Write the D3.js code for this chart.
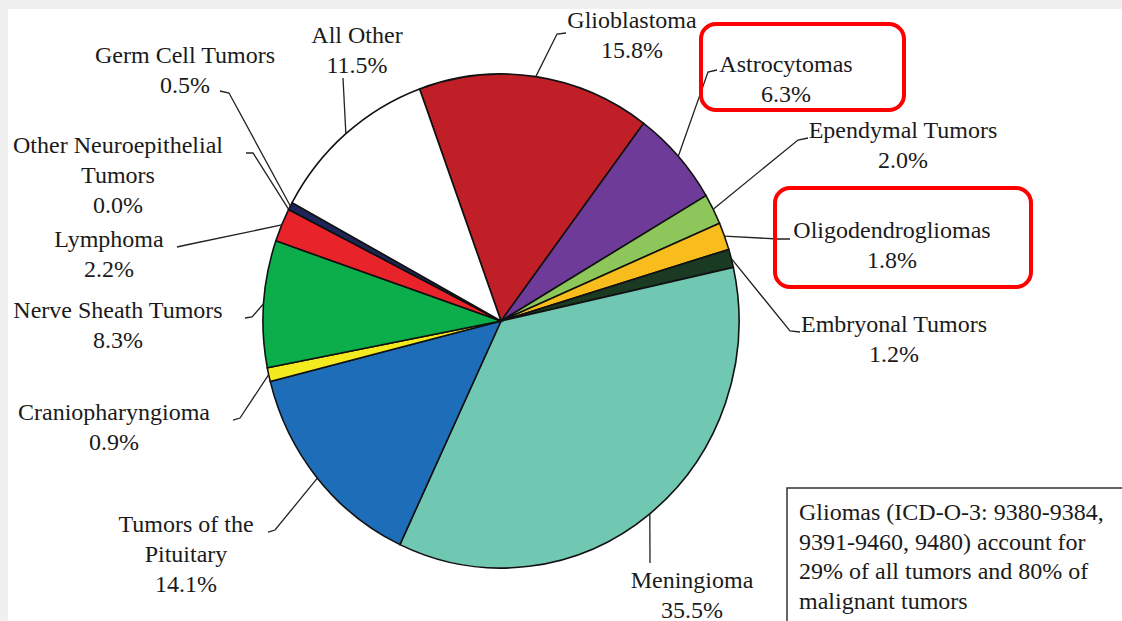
<!doctype html>
<html><head><meta charset="utf-8"/>
<title>Brain tumor distribution</title>
<style>
  html, body { margin:0; padding:0; background:#f0f0f0; }
  svg { display:block; }
</style>
</head><body>
<svg id="g" width="1122" height="621"></svg>
<script src="https://cdn.jsdelivr.net/npm/d3@7"></script>
<script>
// categories, clockwise from the top (Glioblastoma first)
const categories = [
  "Glioblastoma", "Astrocytomas", "Ependymal Tumors", "Oligodendrogliomas",
  "Embryonal Tumors", "Meningioma", "Tumors of the\nPituitary", "Craniopharyngioma",
  "Nerve Sheath Tumors", "Lymphoma", "Other Neuroepithelial\nTumors",
  "Germ Cell Tumors", "All Other"
];
const percents = [15.8, 6.3, 2.0, 1.8, 1.2, 35.5, 14.1, 0.9, 8.3, 2.2, 0.0, 0.5, 11.5];
const colors = [
  "#c01f28", "#6e3b98", "#8dc65a", "#f8bd1d", "#1b3a24", "#70c8b3", "#1e6db9",
  "#f3eb1f", "#0cae4c", "#e8232a", "#2a2a5a", "#1d2659", "#ffffff"
];
const noteLines = [
  "Gliomas (ICD-O-3: 9380-9384,",
  "9391-9460, 9480) account for",
  "29% of all tumors and 80% of",
  "malignant tumors"
];
const highlighted = ["Astrocytomas", "Oligodendrogliomas"];

// layout: label anchor (centre x, first baseline) and leader bends
const labelAt = [
  [632, 28], [786, 72], [903, 138], [892, 238], [894, 332], [692, 588], [186, 532],
  [114, 420], [118, 318], [109, 247], [118, 153], [185, 63], [357, 43]
];
const leaderBends = [
  [[557, 34], [566, 33]], [[708, 72], [717, 70]], [[798, 140], [808, 138]],
  [[778, 239], [790, 239]], [[790, 331], [800, 332]], [[650, 563]],
  [[275, 530], [268, 532]], [[240, 418], [233, 420]], [[252, 317], [245, 318]],
  [[186, 245], [177, 247]], [[253, 153], [246, 153]], [[229, 93], [220, 91]],
  [[343, 78]]
];
const highlightBoxes = [[701, 24, 203, 86], [775, 188, 256, 99]];

const FONT = "Liberation Serif, Times New Roman, serif";
const W = 1122, H = 621;
const cx = 501, cy = 321, rx = 238, ry = 247;
const lineH = 30;
const svg = d3.select("#g");

// white panel with grey strip on top and left
svg.append("rect").attr("x", 0).attr("y", 0).attr("width", W).attr("height", H).attr("fill", "#f0f0f0");
svg.append("rect").attr("x", 8).attr("y", 9).attr("width", W - 8).attr("height", H - 9).attr("fill", "#fff");

const start = -20 * Math.PI / 180;
const pie = d3.pie().sort(null).startAngle(start).endAngle(start + 2 * Math.PI);
const arcs = pie(percents);
const arc = d3.arc().innerRadius(0).outerRadius(ry);

const pg = svg.append("g").attr("transform", `translate(${cx},${cy}) scale(${rx / ry},1)`);
pg.selectAll("path").data(arcs).enter().append("path")
  .attr("d", arc)
  .attr("fill", (d, i) => colors[i])
  .attr("stroke", "#111").attr("stroke-width", 1.6)
  .attr("vector-effect", "non-scaling-stroke");

// leaders from the mid-angle of each slice
const edgePt = (d) => {
  const a = (d.startAngle + d.endAngle) / 2;
  return [cx + rx * Math.sin(a), cy - ry * Math.cos(a)];
};
const line = d3.line();
svg.append("g").selectAll("path").data(arcs).enter().append("path")
  .attr("fill", "none").attr("stroke", "#222").attr("stroke-width", 1.3)
  .attr("d", (d, i) => line([edgePt(d), ...leaderBends[i]]));

// labels
const lg = svg.append("g");
categories.forEach((c, i) => {
  const lines = c.split("\n").concat([percents[i].toFixed(1) + "%"]);
  const t = lg.append("text").attr("font-family", FONT).attr("font-size", 24)
    .attr("fill", "#1a1a1a").attr("text-anchor", "middle");
  lines.forEach((s, k) => {
    t.append("tspan").attr("x", labelAt[i][0]).attr("y", labelAt[i][1] + k * lineH).text(s);
  });
});

// red highlight boxes
svg.append("g").selectAll("rect").data(highlighted).enter().append("rect")
  .attr("x", (d, i) => highlightBoxes[i][0]).attr("y", (d, i) => highlightBoxes[i][1])
  .attr("width", (d, i) => highlightBoxes[i][2]).attr("height", (d, i) => highlightBoxes[i][3])
  .attr("rx", 15).attr("fill", "none").attr("stroke", "#ff0000").attr("stroke-width", 4);

// note box
svg.append("rect").attr("x", 787).attr("y", 488).attr("width", 360).attr("height", 160)
  .attr("fill", "#fff").attr("stroke", "#333").attr("stroke-width", 1.5);
const nt = svg.append("text").attr("font-family", FONT).attr("font-size", 24).attr("fill", "#1a1a1a");
noteLines.forEach((s, k) => {
  nt.append("tspan").attr("x", 799).attr("y", 520 + k * 29.5).text(s);
});
</script>
</body></html>
